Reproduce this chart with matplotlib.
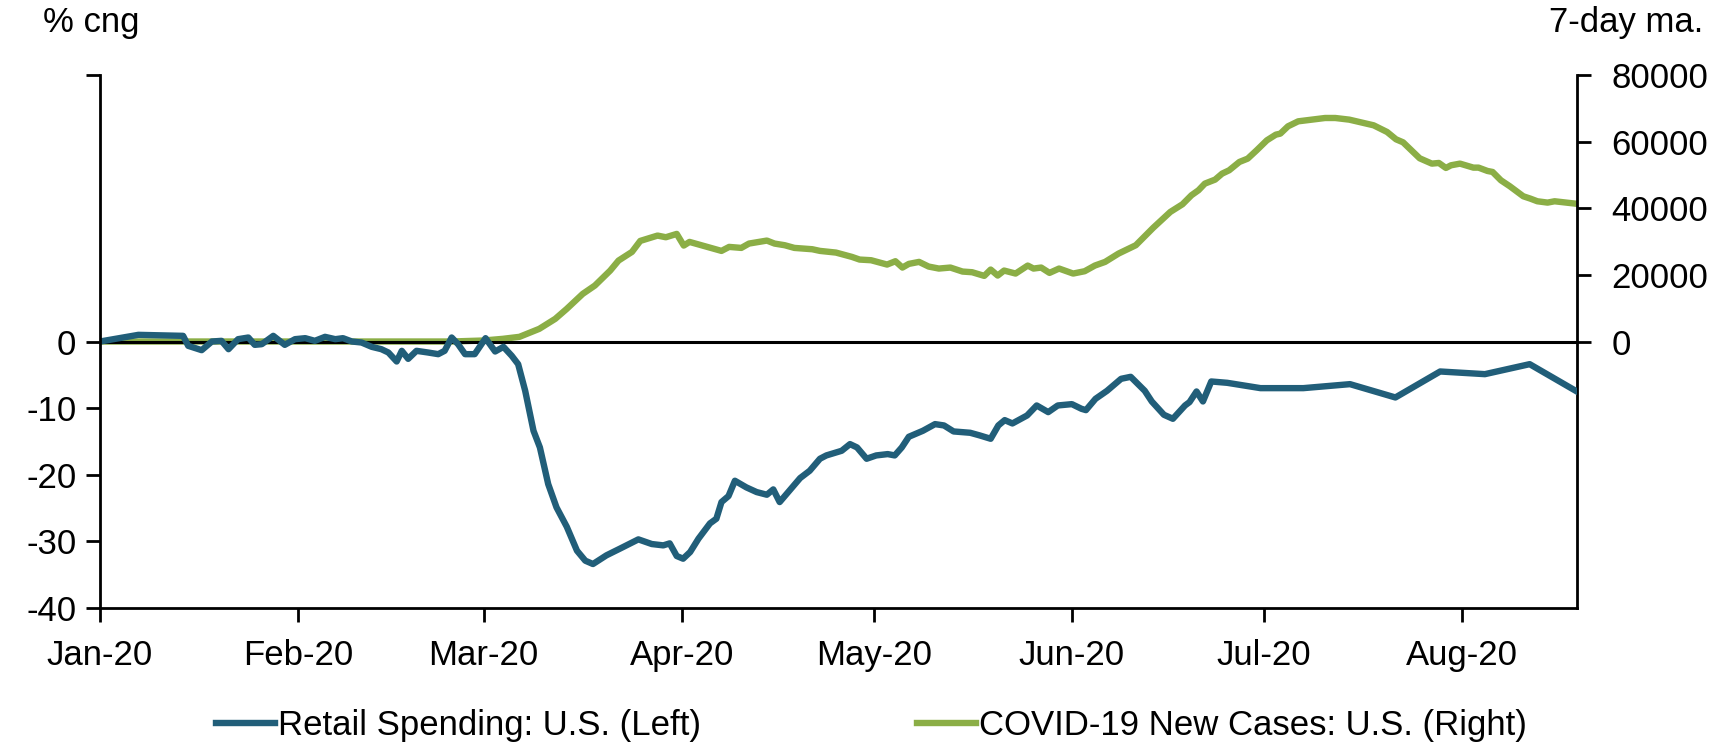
import numpy as np
import pandas as pd
import matplotlib
matplotlib.use("Agg")
import matplotlib.pyplot as plt
import matplotlib.dates as mdates

# days since 2020-01-01
retail_day = [0, 6.0, 13.0, 13.8, 15.9, 17.5, 19.0, 20.1, 21.6, 23.2, 24.2, 25.3,
              27.1, 28.9, 30.5, 32.1, 33.6, 35.2, 36.8, 38.0, 39.4, 40.9, 42.5,
              44.0, 45.1, 46.4, 47.2, 48.2, 49.5, 51.3, 52.9, 53.9, 55.0, 56.0,
              57.1, 58.6, 60.3, 61.8, 63.1, 64.4, 65.4, 66.5, 67.8, 68.8, 70.1,
              71.4, 73.0, 74.6, 75.9, 77.1, 79.2, 81.3, 84.2, 86.3, 88.1, 89.1,
              90.2, 91.2, 92.3, 93.6, 95.4, 96.4, 97.2, 98.3, 99.3, 101.1, 102.7,
              104.3, 105.3, 106.3, 107.9, 109.5, 111.0, 112.6, 113.6, 116.0,
              117.3, 118.4, 119.9, 121.4, 123.2, 124.3, 125.4, 126.5, 128.7,
              130.6, 132.0, 133.5, 136.1, 137.6, 139.3, 140.5, 141.5, 142.7,
              145.0, 146.5, 148.3, 149.8, 152.0, 153.5, 154.2, 155.7, 157.5,
              159.7, 161.2, 163.4, 164.5, 166.4, 167.8, 169.7, 170.4, 171.5,
              172.5, 173.8, 176.3, 181.5, 188.2, 195.5, 202.6, 209.6, 216.6,
              223.6, 230.8]
retail_pct = [0, 1.0, 0.85, -0.65, -1.3, 0, 0.1, -1.15, 0.35, 0.6, -0.5, -0.4,
              0.85, -0.5, 0.35, 0.5, 0.1, 0.7, 0.35, 0.5, 0, -0.15, -0.8,
              -1.15, -1.65, -3.0, -1.4, -2.6, -1.4, -1.65, -1.9, -1.4, 0.6, -0.4,
              -1.9, -1.9, 0.5, -1.5, -0.8, -2.15, -3.4, -7.4, -13.4, -15.9, -21.4,
              -24.9, -27.8, -31.4, -32.9, -33.4, -32.1, -31.1, -29.7, -30.4, -30.6, -30.3,
              -32.2, -32.6, -31.6, -29.6, -27.3, -26.6, -24.1, -23.2, -20.9, -21.9, -22.6,
              -23.0, -22.2, -24.1, -22.3, -20.5, -19.4, -17.6, -17.1, -16.4,
              -15.4, -15.9, -17.6, -17.1, -16.9, -17.1, -15.9, -14.3, -13.4,
              -12.4, -12.6, -13.5, -13.7, -14.1, -14.6, -12.6, -11.8, -12.3,
              -11.1, -9.6, -10.6, -9.6, -9.4, -10.1, -10.3, -8.6, -7.4,
              -5.6, -5.3, -7.4, -9.0, -11.0, -11.6, -9.6, -9.1, -7.5,
              -9.0, -6.0, -6.2, -7.0, -7.0, -6.4, -8.4, -4.5, -4.9,
              -3.4, -7.4]

cases_day = [0, 55, 60, 63, 65.6, 68.7, 71.2, 73.0, 75.5, 77.4, 79.8, 81.1, 83.2,
             84.5, 87.2, 88.5, 90.2, 91.3, 92.2, 97.2, 98.4, 100.3, 101.5, 104.3,
             105.5, 107.1, 108.6, 111.4, 112.6, 115.1, 117.6, 118.8, 120.6, 123.1,
             124.4, 125.5, 126.5, 128.1, 129.6, 131.2, 133.0, 134.9, 136.4, 138.3,
             139.3, 140.4, 141.4, 143.2, 145.1, 146.0, 147.2, 148.5, 150.0, 152.2,
             154.0, 155.6, 157.2, 159.3, 162.0, 164.7, 167.4, 169.3, 170.7, 171.8,
             172.8, 174.4, 175.5, 176.6, 178.2, 179.5, 180.9, 182.5, 183.9, 184.6,
             185.8, 187.4, 189.5, 191.6, 193.2, 195.4, 199.2, 201.3, 202.7, 203.8,
             206.4, 208.3, 209.4, 210.5, 211.3, 212.7, 214.8, 215.6, 217.0, 217.8,
             219.1, 220.5, 222.6, 223.7, 224.8, 226.4, 227.5, 230.7]
cases_7d = [0, 0, 300, 800, 1400, 3800, 6800, 9800, 14300, 16800, 21300, 24300, 26900,
            30200, 31800, 31300, 32300, 28800, 29900, 27200, 28400, 28100, 29400, 30300,
            29400, 28900, 28100, 27700, 27200, 26700, 25400, 24600, 24400, 23100,
            24100, 22200, 23300, 23900, 22500, 21900, 22200, 21000, 20800, 19700,
            21600, 19800, 21300, 20400, 22800, 21900, 22200, 20600, 21900, 20400,
            21100, 22800, 23900, 26400, 28900, 34100, 38900, 41200, 43900, 45400,
            47400, 48600, 50400, 51400, 53900, 54900, 57400, 60400, 62100, 62400,
            64600, 66100, 66600, 67100, 67100, 66600, 64900, 62900, 60700, 59800,
            55000, 53400, 53600, 52100, 52900, 53400, 52200, 52200, 51200, 50900,
            48400, 46600, 43600, 42900, 42100, 41700, 42100, 41400]

left_ticks = [-40, -30, -20, -10, 0, 40]
left_labels = ["-40", "-30", "-20", "-10", "0", ""]
right_ticks = [0, 20000, 40000, 60000, 80000]

BLUE = "#215E79"
GREEN = "#8BAE46"
FS = 25

plt.rcParams["font.family"] = ["Liberation Sans", "DejaVu Sans"]
plt.rcParams["font.size"] = FS


def to_dates(days):
    base = pd.Timestamp("2020-01-01")
    return [base + pd.Timedelta(days=d) for d in days]


def main():
    fig = plt.figure(figsize=(17.36, 7.45), dpi=100)
    ax = fig.add_axes([0.0576, 0.1839, 0.8508, 0.7154])
    ax2 = ax.twinx()

    ax2.plot(to_dates(cases_day), cases_7d, color=GREEN, lw=4.6,
             label="COVID-19 New Cases: U.S. (Right)", zorder=2)
    ax.plot(to_dates(retail_day), retail_pct, color=BLUE, lw=4.6,
            label="Retail Spending: U.S. (Left)", zorder=2)
    ax2.axhline(0, color="black", lw=2.2, zorder=3)

    ax.set_zorder(ax2.get_zorder() + 1)
    ax.patch.set_visible(False)

    ax.set_xlim(pd.Timestamp("2020-01-01"), pd.Timestamp("2020-08-19"))
    ax.set_ylim(-40, 40)
    ax2.set_ylim(-80000, 80000)

    ax.set_yticks(left_ticks)
    ax.set_yticklabels(left_labels)
    ax2.set_yticks(right_ticks)
    ax2.set_yticklabels([str(t) for t in right_ticks])

    ax.xaxis.set_major_locator(mdates.MonthLocator())
    ax.xaxis.set_major_formatter(mdates.DateFormatter("%b-%y"))

    for a in (ax, ax2):
        a.spines["top"].set_visible(False)
        for s in ("left", "right", "bottom"):
            a.spines[s].set_linewidth(2)
        a.tick_params(direction="out", length=10, width=2, labelsize=FS)
    ax.spines["right"].set_visible(False)
    ax2.spines["left"].set_visible(False)
    ax2.spines["bottom"].set_visible(False)
    ax.tick_params(axis="x", pad=12)
    ax.tick_params(axis="y", pad=7)
    ax2.tick_params(axis="y", pad=15)

    fig.text(0.025, 0.97, "% cng", ha="left", va="center", fontsize=FS)
    fig.text(0.981, 0.97, "7-day ma.", ha="right", va="center", fontsize=FS)

    h1, l1 = ax.get_legend_handles_labels()
    h2, l2 = ax2.get_legend_handles_labels()
    fig.legend(h1 + h2, l1 + l2, loc="center", bbox_to_anchor=(0.502, 0.026),
               ncol=2, frameon=False, fontsize=FS, handlelength=1.7,
               handletextpad=0.1, columnspacing=6.2)

    fig.savefig("out.png", dpi=100)


if __name__ == "__main__":
    main()
